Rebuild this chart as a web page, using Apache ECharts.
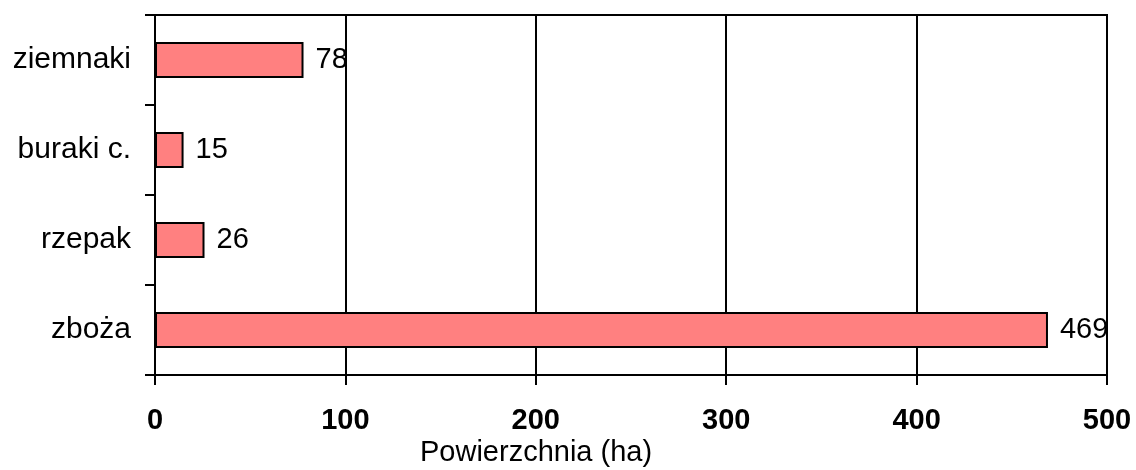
<!DOCTYPE html>
<html>
<head>
<meta charset="utf-8">
<script src="https://cdn.jsdelivr.net/npm/echarts@6/dist/echarts.min.js"></script>
<style>
html,body{margin:0;padding:0;background:#fff;}
#chart{width:1136px;height:470px;}
</style>
</head>
<body>
<div id="chart"></div>
<script>
const categories = ['zboża', 'rzepak', 'buraki c.', 'ziemnaki'];
const values = [469, 26, 15, 78];
const xTicks = [0, 100, 200, 300, 400, 500];
const axisTitle = 'Powierzchnia (ha)';

const chart = echarts.init(document.getElementById('chart'));
const font = '"Liberation Sans", Arial, sans-serif';
chart.setOption({
  backgroundColor: '#fff',
  animation: false,
  title: {
    text: axisTitle,
    left: 420,
    top: 438,
    padding: 0,
    textStyle: { fontFamily: font, fontSize: 29, fontWeight: 'normal', color: '#000' }
  },
  grid: {
    left: 155, right: 29, top: 15, bottom: 95,
    show: true, borderColor: '#000', borderWidth: 2, backgroundColor: 'transparent'
  },
  xAxis: {
    type: 'value',
    min: xTicks[0],
    max: xTicks[xTicks.length - 1],
    interval: 100,
    axisLine: { show: true, lineStyle: { color: '#000', width: 2 } },
    axisTick: { show: true, inside: false, length: 10, lineStyle: { color: '#000', width: 2 } },
    axisLabel: { margin: 31, fontFamily: font, fontSize: 29, fontWeight: 'bold', color: '#000' },
    splitLine: { show: true, lineStyle: { color: '#000', width: 2 } }
  },
  yAxis: {
    type: 'category',
    data: categories,
    axisLine: { show: true, lineStyle: { color: '#000', width: 2 } },
    axisTick: { show: true, inside: false, length: 10, lineStyle: { color: '#000', width: 2 } },
    axisLabel: { margin: 24, fontFamily: font, fontSize: 30, color: '#000' },
    splitLine: { show: false }
  },
  series: [{
    type: 'bar',
    data: values,
    barWidth: 36,
    itemStyle: { color: '#FF8080', borderColor: '#000', borderWidth: 2 },
    label: {
      show: true, position: 'right', distance: 12,
      fontFamily: font, fontSize: 29, color: '#000'
    }
  }]
});
</script>
</body>
</html>
